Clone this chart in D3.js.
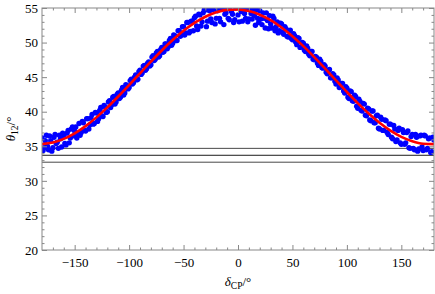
<!DOCTYPE html>
<html><head><meta charset="utf-8">
<script src="https://cdn.jsdelivr.net/npm/d3@7"></script>
<style>body{margin:0;background:#fff}svg{display:block}text{font-family:"Liberation Serif","DejaVu Serif",serif}</style>
</head><body>
<script>
// fitted curve (red)
const curveX=[-180,-170,-160,-150,-140,-130,-120,-110,-100,-90,-80,-70,-60,-50,-40,-30,-20,-10,0,10,20,30,40,50,60,70,80,90,100,110,120,130,140,150,160,170,180];
const curveY=[35.31,35.55,36.07,36.87,37.92,39.18,40.62,42.20,43.86,45.56,47.24,48.86,50.36,51.70,52.84,53.74,54.37,54.73,54.79,54.55,54.03,53.23,52.18,50.92,49.48,47.90,46.24,44.54,42.86,41.24,39.74,38.40,37.26,36.36,35.73,35.37,35.31];
// scatter points (blue)
const blueX=[-180,-178,-176,-174,-172,-170,-168,-166,-164,-162,-160,-158,-156,-154,-152,-150,-148,-146,-144,-142,-140,-138,-136,-134,-132,-130,-128,-126,-124,-122,-120,-118,-116,-114,-112,-110,-108,-106,-104,-102,-100,-98,-96,-94,-92,-90,-88,-86,-84,-82,-80,-78,-76,-74,-72,-70,-68,-66,-64,-62,-60,-58,-56,-54,-52,-50,-48,-46,-44,-42,-40,-38,-36,-34,-32,-30,-28,-26,-24,-22,-20,-18,-16,-14,-12,-10,-8,-6,-4,-2,0,2,4,6,8,10,12,14,16,18,20,22,24,26,28,30,32,34,36,38,40,42,44,46,48,50,52,54,56,58,60,62,64,66,68,70,72,74,76,78,80,82,84,86,88,90,92,94,96,98,100,102,104,106,108,110,112,114,116,118,120,122,124,126,128,130,132,134,136,138,140,142,144,146,148,150,152,154,156,158,160,162,164,166,168,170,172,174,176,178,180,
-179,-177,-175,-173,-171,-169,-167,-165,-163,-161,-159,-157,-155,-153,-151,-149,-147,-145,-143,-141,-139,-137,-135,-133,-131,-129,-127,-125,-123,-121,-119,-117,-115,-113,-111,-109,-107,-105,-103,-101,-99,-97,-95,-93,-91,-89,-87,-85,-83,-81,-79,-77,-75,-73,-71,-69,-67,-65,-63,-61,-59,-57,-55,-53,-51,-49,-47,-45,-43,-41,-39,-37,-35,-33,-31,-29,-27,-25,-23,-21,-19,-17,-15,-13,-11,-9,-7,-5,-3,-1,1,3,5,7,9,11,13,15,17,19,21,23,25,27,29,31,33,35,37,39,41,43,45,47,49,51,53,55,57,59,61,63,65,67,69,71,73,75,77,79,81,83,85,87,89,91,93,95,97,99,101,103,105,107,109,111,113,115,117,119,121,123,125,127,129,131,133,135,137,139,141,143,145,147,149,151,153,155,157,159,161,163,165,167,169,171,173,175,177,179];
const blueY=[36.2,34.8,36.6,34.5,35.8,34.8,36.7,35.6,36.6,34.9,36.6,35.2,37.3,36.2,37.8,37.2,36.2,38.3,37.0,38.4,37.2,39.0,38.1,39.6,38.3,39.8,39.0,40.6,39.3,40.7,40.0,41.6,41.0,42.2,41.4,42.7,42.1,43.5,42.7,43.8,43.5,44.7,44.2,45.3,44.7,46.0,45.6,46.7,46.2,47.2,46.8,48.1,47.6,48.7,48.1,49.3,48.7,49.8,49.4,50.6,49.9,51.0,50.3,51.7,51.1,52.3,51.4,52.9,51.6,53.1,53.6,52.4,54.1,52.4,54.3,54.7,53.1,54.6,52.9,55.4,53.5,54.9,53.0,54.9,54.1,55.1,53.3,54.5,52.9,55.0,54.0,55.0,53.1,54.2,55.0,53.4,54.2,54.8,52.5,53.5,54.6,52.6,53.5,54.3,52.0,52.7,53.8,51.7,53.0,51.7,52.7,51.2,52.0,50.8,51.8,50.4,51.0,49.7,50.6,49.4,49.9,48.7,49.2,48.1,48.7,47.5,47.9,46.7,47.3,46.3,46.6,45.5,46.1,44.9,45.3,44.0,44.6,43.6,44.1,42.7,43.4,41.9,42.9,41.5,42.2,40.5,41.5,40.1,41.1,39.4,40.4,38.7,40.1,38.4,39.5,37.5,38.9,37.3,38.7,36.7,38.2,36.1,37.5,35.9,37.6,35.3,37.0,35.5,37.2,34.7,36.7,34.5,36.3,34.6,36.6,34.4,36.5,34.7,36.2,34.2,35.9,
34.4,35.8,35.0,36.5,34.3,36.3,35.4,34.7,36.1,36.9,35.4,36.9,35.5,37.5,36.5,37.8,36.8,36.6,38.6,37.3,39.0,37.5,39.1,38.2,39.9,38.6,40.2,39.4,40.9,39.9,41.4,40.6,42.1,41.1,42.5,41.9,43.1,42.4,43.9,43.3,44.5,44.0,45.0,44.6,45.8,45.4,46.6,46.0,47.0,46.6,47.9,47.4,48.5,47.9,49.0,48.6,49.8,49.1,50.3,49.6,51.1,50.3,51.7,50.9,52.3,51.1,52.9,51.4,53.1,51.7,53.8,51.9,54.0,53.0,54.7,52.3,54.7,53.4,54.8,52.7,54.6,53.5,55.1,52.6,54.3,53.5,55.2,54.1,53.3,55.1,53.0,54.5,55.1,53.5,53.0,54.8,53.4,53.9,54.7,52.9,53.4,54.3,52.1,53.2,53.9,52.1,53.5,52.3,51.4,52.8,51.5,52.3,50.9,51.7,50.6,51.3,50.1,50.7,49.3,50.0,48.9,49.5,48.3,48.7,47.6,48.0,47.0,47.6,46.4,46.8,45.7,46.0,44.9,45.5,44.4,44.9,43.5,44.1,43.0,43.6,42.1,43.0,41.6,42.4,40.8,41.8,40.2,41.2,39.5,40.5,38.8,40.1,38.4,39.4,37.6,39.2,37.3,38.8,37.0,38.2,36.3,38.0,35.7,37.3,35.5,37.4,35.3,37.0,34.8,36.4,34.7,36.7,34.3,36.5,34.9,36.6,34.5,36.1,34.1,36.3];
// horizontal reference lines
const refLines=[34.7,33.7,32.7];
const xTicks=[-150,-100,-50,0,50,100,150];
const yTicks=[20,25,30,35,40,45,50,55];

const W=435,H=294;
const L=42,R=434,T=8,B=250;
const x=d3.scaleLinear().domain([-180,180]).range([L,R]);
const y=d3.scaleLinear().domain([20,55]).range([B,T]);
const svg=d3.select("body").append("svg").attr("width",W).attr("height",H);
svg.append("defs").append("clipPath").attr("id","c").append("rect").attr("x",L).attr("y",T).attr("width",R-L).attr("height",B-T);

const g=svg.append("g").attr("clip-path","url(#c)");
g.selectAll("line.ref").data(refLines).join("line").attr("class","ref")
 .attr("x1",L).attr("x2",R).attr("y1",d=>y(d)).attr("y2",d=>y(d))
 .attr("stroke",(d,i)=>i===1?"#000":"#333").attr("stroke-width",0.9);
g.selectAll("circle").data(blueX.map((v,i)=>[v,blueY[i]])).join("circle")
 .attr("cx",d=>x(d[0])).attr("cy",d=>y(d[1])).attr("r",2.7).attr("fill","#0000ff");
g.append("path").datum(curveX.map((v,i)=>[v,curveY[i]]))
 .attr("d",d3.line().x(d=>x(d[0])).y(d=>y(d[1])).curve(d3.curveMonotoneX))
 .attr("fill","none").attr("stroke","#ff0000").attr("stroke-width",2.6);

// frame with inward ticks
const fc="#888";
const ax=svg.append("g");
const xb=d3.axisBottom(x).tickValues(xTicks).tickSize(-5).tickFormat(d=>d<0?"\u2212"+(-d):d);
const xbm=d3.axisBottom(x).tickValues(d3.range(-170,180,10).filter(v=>v%50!==0)).tickSize(-2.5).tickFormat("");
const yl=d3.axisLeft(y).tickValues(yTicks).tickSize(-5);
const ylm=d3.axisLeft(y).tickValues(d3.range(21,55,1).filter(v=>v%5!==0)).tickSize(-2.5).tickFormat("");
function style(sel){sel.select(".domain").remove();sel.selectAll(".tick line").attr("stroke",fc);sel.selectAll("text").attr("fill","#000").style("font-size","13px").style("font-family","Liberation Serif");}
ax.append("g").attr("transform",`translate(0,${B})`).call(xb).call(style).selectAll("text").attr("dy","1.05em");
ax.append("g").attr("transform",`translate(0,${B})`).call(xbm).call(style);
ax.append("g").attr("transform",`translate(0,${T})`).call(d3.axisTop(x).tickValues(xTicks).tickSize(-5).tickFormat("")).call(style);
ax.append("g").attr("transform",`translate(0,${T})`).call(d3.axisTop(x).tickValues(d3.range(-170,180,10).filter(v=>v%50!==0)).tickSize(-2.5).tickFormat("")).call(style);
ax.append("g").attr("transform",`translate(${L},0)`).call(yl).call(style).selectAll("text").attr("x",-4);
ax.append("g").attr("transform",`translate(${L},0)`).call(ylm).call(style);
ax.append("g").attr("transform",`translate(${R},0)`).call(d3.axisRight(y).tickValues(yTicks).tickSize(-5).tickFormat("")).call(style);
ax.append("g").attr("transform",`translate(${R},0)`).call(d3.axisRight(y).tickValues(d3.range(21,55,1).filter(v=>v%5!==0)).tickSize(-2.5).tickFormat("")).call(style);
svg.append("rect").attr("x",L).attr("y",T).attr("width",R-L).attr("height",B-T).attr("fill","none").attr("stroke",fc).attr("stroke-width",1);

// axis titles
const xt=svg.append("text").attr("x",(L+R)/2).attr("y",286).attr("text-anchor","middle").style("font-size","13px");
xt.append("tspan").text("\u03b4").style("font-style","italic");
xt.append("tspan").text("CP").attr("dy",3).style("font-size","9.5px");
xt.append("tspan").text("/\u00b0").attr("dy",-3);
const yt=svg.append("text").attr("transform",`translate(15,${(T+B)/2}) rotate(-90)`).attr("text-anchor","middle").style("font-size","13px");
yt.append("tspan").text("\u03b8").style("font-style","italic");
yt.append("tspan").text("12").attr("dy",3).style("font-size","9.5px");
yt.append("tspan").text("/\u00b0").attr("dy",-3);
</script>
</body></html>
